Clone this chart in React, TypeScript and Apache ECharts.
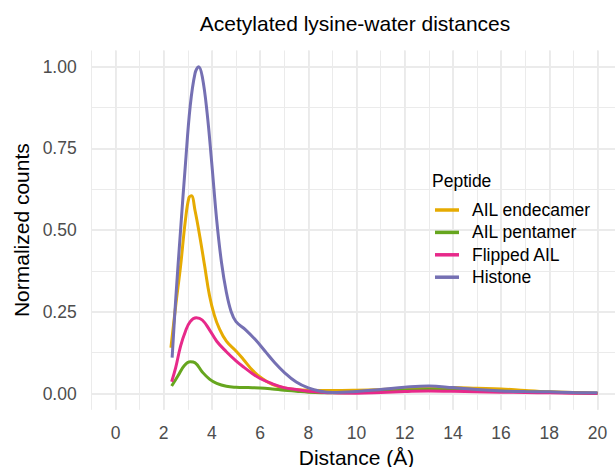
import React, { useEffect, useRef } from "react";
import * as echarts from "echarts";

const chartTitle = "Acetylated lysine-water distances";
const xTitle = "Distance (Å)";
const yTitle = "Normalized counts";
const legendTitle = "Peptide";

const seriesNames = ["AIL endecamer", "AIL pentamer", "Flipped AIL", "Histone"];
const seriesColors = ["#E6AB02", "#66A61E", "#E7298A", "#7570B3"];

const endecamerX = [2.3, 2.5, 2.7, 2.9, 3.05, 3.15, 3.3, 3.5, 3.7, 3.9, 4.1, 4.3, 4.6, 5.0, 5.3, 5.7, 6.1, 6.5, 7.0, 7.5, 8, 9, 10, 11, 12, 13, 14, 15, 16, 17, 18, 19, 20];
const endecamerY = [0.14, 0.27, 0.39, 0.53, 0.6, 0.605, 0.56, 0.48, 0.39, 0.3, 0.24, 0.2, 0.16, 0.13, 0.105, 0.07, 0.045, 0.028, 0.017, 0.012, 0.01, 0.009, 0.01, 0.012, 0.015, 0.018, 0.018, 0.016, 0.014, 0.009, 0.005, 0.003, 0.001];

const pentamerX = [2.33, 2.6, 2.85, 3.1, 3.3, 3.6, 3.9, 4.2, 4.6, 5.0, 5.5, 6.0, 6.5, 7.0, 7.5, 8, 9, 10, 11, 12, 13, 14, 15, 16, 17, 18, 19, 20];
const pentamerY = [0.023, 0.055, 0.085, 0.097, 0.094, 0.066, 0.044, 0.031, 0.022, 0.019, 0.018, 0.017, 0.014, 0.01, 0.007, 0.004, 0.002, 0.003, 0.006, 0.01, 0.012, 0.011, 0.009, 0.007, 0.005, 0.004, 0.002, 0.001];

const flippedX = [2.33, 2.5, 2.7, 2.9, 3.1, 3.35, 3.6, 3.9, 4.2, 4.6, 5.0, 5.3, 5.7, 6.0, 6.5, 7.0, 7.5, 8, 9, 10, 11, 12, 13, 14, 15, 16, 17, 18, 19, 20];
const flippedY = [0.036, 0.08, 0.145, 0.19, 0.22, 0.232, 0.225, 0.195, 0.16, 0.128, 0.1, 0.082, 0.06, 0.046, 0.03, 0.018, 0.012, 0.007, 0.002, 0.001, 0.003, 0.006, 0.008, 0.007, 0.005, 0.004, 0.003, 0.002, 0.001, 0.0];

const histoneX = [2.35, 2.5, 2.7, 2.9, 3.1, 3.3, 3.45, 3.6, 3.8, 4.0, 4.2, 4.4, 4.6, 4.8, 5.0, 5.4, 5.8, 6.2, 6.6, 7.0, 7.5, 8.0, 8.5, 9, 10, 11, 12, 13, 14, 15, 16, 17, 18, 19, 20];
const histoneY = [0.11, 0.29, 0.5, 0.7, 0.88, 0.98, 1.0, 0.97, 0.86, 0.7, 0.53, 0.4, 0.31, 0.25, 0.22, 0.195, 0.165, 0.13, 0.095, 0.065, 0.035, 0.017, 0.007, 0.003, 0.006, 0.012, 0.019, 0.023, 0.018, 0.012, 0.008, 0.006, 0.005, 0.003, 0.002];

const seriesX = [endecamerX, pentamerX, flippedX, histoneX];
const seriesY = [endecamerY, pentamerY, flippedY, histoneY];

const FONT = "'Liberation Sans', Arial, Helvetica, sans-serif";
const GRID_COLOR = "#EBEBEB";
const TICK_COLOR = "#4D4D4D";

export default function App() {
  const ref = useRef<HTMLDivElement>(null);
  useEffect(() => {
    document.body.style.margin = "0";
    if (!ref.current) return;
    const chart = echarts.init(ref.current, null, { renderer: "svg" });
    const left = 91.4;
    const width = 530.2;
    const option: any = {
      animation: false,
      backgroundColor: "#FFFFFF",
      textStyle: { fontFamily: FONT },
      title: [
        {
          text: chartTitle,
          left: 355,
          top: 13,
          padding: 0,
          textAlign: "center",
          textStyle: { fontFamily: FONT, fontSize: 21, fontWeight: "normal", color: "#000000", lineHeight: 21 },
        },
        {
          text: legendTitle,
          left: 432,
          top: 172,
          padding: 0,
          textStyle: { fontFamily: FONT, fontSize: 17.5, fontWeight: "normal", color: "#000000", lineHeight: 17.5 },
        },
      ],
      legend: {
        data: seriesNames,
        orient: "vertical",
        left: 435,
        top: 201,
        padding: 0,
        itemGap: 4.4,
        itemWidth: 24,
        itemHeight: 3.5,
        icon: "rect",
        textStyle: { fontFamily: FONT, fontSize: 17.5, color: "#000000", lineHeight: 18, padding: [0, 0, 0, 8] },
      },
      grid: [
        { left, width, top: 50.5, height: 359.3, containLabel: false, outerBoundsMode: "none" },
        { left, width, top: 66.8, height: 326.7, containLabel: false, outerBoundsMode: "none" },
      ],
      xAxis: [
        {
          type: "value",
          gridIndex: 0,
          position: "bottom",
          min: -1,
          max: 21,
          interval: 1,
          axisLine: { show: false, onZero: false },
          axisTick: { show: false },
          axisLabel: {
            color: TICK_COLOR,
            fontFamily: FONT,
            fontSize: 17.5,
            margin: 14,
            formatter: (v: number) => (v >= 0 && v <= 20 && v % 2 === 0 ? String(v) : ""),
          },
          splitLine: { show: true, lineStyle: { color: GRID_COLOR, width: 1 } },
          name: xTitle,
          nameLocation: "middle",
          nameGap: 33,
          nameTextStyle: { fontFamily: FONT, fontSize: 21, color: "#000000", lineHeight: 21 },
        },
        {
          type: "value",
          gridIndex: 0,
          position: "bottom",
          min: -1,
          max: 21,
          interval: 1,
          axisLine: { show: false, onZero: false },
          axisTick: { show: false },
          axisLabel: { show: false },
          splitLine: { show: true, lineStyle: { color: ["transparent", GRID_COLOR], width: 1.9 } },
        },
        {
          type: "value",
          gridIndex: 1,
          min: -1,
          max: 21,
          show: false,
          axisLine: { onZero: false },
          splitLine: { show: false },
        },
      ],
      yAxis: [
        {
          type: "value",
          gridIndex: 1,
          min: 0,
          max: 1,
          interval: 0.25,
          axisLine: { show: false, onZero: false },
          axisTick: { show: false },
          axisLabel: {
            color: TICK_COLOR,
            fontFamily: FONT,
            fontSize: 17.5,
            margin: 14.7,
            formatter: (v: number) => v.toFixed(2),
          },
          splitLine: { show: true, lineStyle: { color: GRID_COLOR, width: 1.9 } },
          name: yTitle,
          nameLocation: "middle",
          nameGap: 58,
          nameTextStyle: { fontFamily: FONT, fontSize: 21, color: "#000000" },
        },
        {
          type: "value",
          gridIndex: 1,
          min: 0,
          max: 1,
          interval: 0.125,
          axisLine: { show: false, onZero: false },
          axisTick: { show: false },
          axisLabel: { show: false },
          splitLine: { show: true, lineStyle: { color: GRID_COLOR, width: 1 } },
        },
        {
          type: "value",
          gridIndex: 0,
          min: 0,
          max: 1,
          show: false,
          axisLine: { onZero: false },
          splitLine: { show: false },
        },
      ],
      series: seriesNames.map((name, i) => ({
        name,
        type: "line",
        xAxisIndex: 2,
        yAxisIndex: 0,
        data: seriesX[i].map((x, j) => [x, seriesY[i][j]]),
        showSymbol: false,
        smooth: 0.4,
        color: seriesColors[i],
        lineStyle: { color: seriesColors[i], width: 3 },
        itemStyle: { color: seriesColors[i] },
        clip: false,
      })),
    };
    chart.setOption(option);
    return () => chart.dispose();
  }, []);
  return <div ref={ref} style={{ width: 615, height: 467 }} />;
}
